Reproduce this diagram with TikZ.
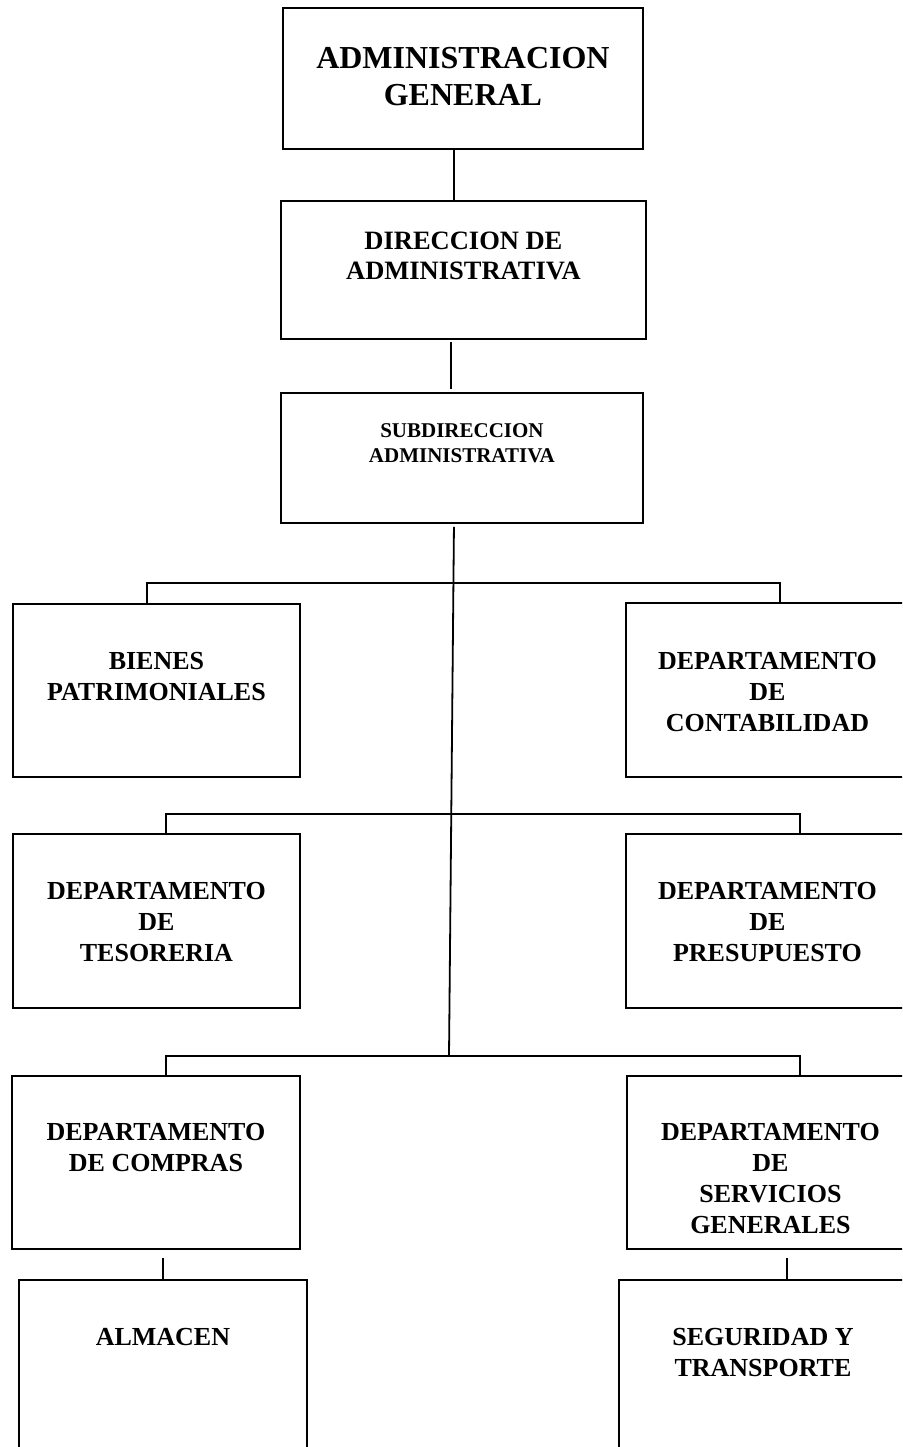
\documentclass[tikz,border=0pt]{standalone}
\usepackage{fontspec}
\setmainfont{Liberation Serif}
\begin{document}
\begin{tikzpicture}[x=1pt,y=-1pt,
  box/.style={draw, line width=1.9pt, rectangle, inner sep=0pt, anchor=north west},
  rowbox/.style={box, minimum width=287pt, minimum height=174pt},
  lbl/.style={inner sep=0pt, align=center, anchor=north, font=\fontsize{26}{31}\selectfont\bfseries},
  conn/.style={line width=1.8pt}
]
\useasboundingbox (0,0) rectangle (902,1447);
\clip (0,0) rectangle (902,1447);
% top boxes
\node[box, minimum width=360pt, minimum height=141pt] (b1) at (282,7) {};
\node[box, minimum width=365pt, minimum height=138pt] (b2) at (280,200) {};
\node[box, minimum width=362pt, minimum height=130pt] (b3) at (280,392) {};
% rows
\node[rowbox, minimum height=173pt] (bp) at (12,603) {};
\node[rowbox] (bc) at (625,602) {};
\node[rowbox] (bt) at (12,833) {};
\node[rowbox] (bpr) at (625,833) {};
\node[rowbox, minimum width=288pt, minimum height=173pt] (bco) at (11,1075) {};
\node[rowbox, minimum height=173pt] (bs) at (626,1075) {};
\node[rowbox, minimum width=288pt, minimum height=200pt] (ba) at (18,1279) {};
\node[rowbox, minimum width=288pt, minimum height=200pt] (bsg) at (618,1279) {};
% labels
\node[lbl, font=\fontsize{32}{37}\selectfont\bfseries] (l1) at ([yshift=-40pt]b1.north) {ADMINISTRACION\\GENERAL};
\node[lbl, font=\fontsize{26.5}{30}\selectfont\bfseries] (l2) at ([yshift=-32pt]b2.north) {DIRECCION DE\\ADMINISTRATIVA};
\node[lbl, font=\fontsize{21}{25}\selectfont\bfseries] (l3) at ([yshift=-31pt]b3.north) {SUBDIRECCION\\ADMINISTRATIVA};
\node[lbl] (lp) at ([yshift=-49pt]bp.north) {BIENES\\PATRIMONIALES};
\node[lbl] (lc) at ([xshift=-2pt,yshift=-50pt]bc.north) {DEPARTAMENTO\\DE\\CONTABILIDAD};
\node[lbl] (lt) at ([yshift=-49pt]bt.north) {DEPARTAMENTO\\DE\\TESORERIA};
\node[lbl] (lpr) at ([xshift=-2pt,yshift=-49pt]bpr.north) {DEPARTAMENTO\\DE\\PRESUPUESTO};
\node[lbl] (lco) at ([yshift=-48pt]bco.north) {DEPARTAMENTO\\DE COMPRAS};
\node[lbl] (ls) at ([yshift=-48pt]bs.north) {DEPARTAMENTO\\DE\\SERVICIOS\\GENERALES};
\node[lbl] (la) at ([yshift=-49pt]ba.north) {ALMACEN};
\node[lbl] (lsg) at ([yshift=-49pt]bsg.north) {SEGURIDAD Y\\TRANSPORTE};
% junctions
\coordinate (r1) at (452,583);
\coordinate (r2) at (451,814);
\coordinate (r3) at (449,1056);
% connectors
\draw[conn] ([xshift=-9pt]b1.south) -- ([xshift=-9pt]b1.south |- b2.north);
\draw[conn] ([xshift=-12.5pt,yshift=-2pt]b2.south) -- ([xshift=-12.5pt,yshift=3pt]b2.south |- b3.north);
\draw[conn] ([xshift=-8pt,yshift=-3pt]b3.south) -- (r3);
\draw[conn] ([xshift=-9.5pt]bp.north) |- (r1) -| ([xshift=10.5pt]bc.north);
\draw[conn] ([xshift=9.5pt]bt.north) |- (r2) -| ([xshift=30.5pt]bpr.north);
\draw[conn] ([xshift=10pt]bco.north) |- (r3) -| ([xshift=29.5pt]bs.north);
\draw[conn] ([xshift=7pt,yshift=-8pt]bco.south) -- ([xshift=7pt]bco.south |- ba.north);
\draw[conn] ([xshift=16.5pt,yshift=-8pt]bs.south) -- ([xshift=16.5pt]bs.south |- bsg.north);
\end{tikzpicture}
\end{document}
